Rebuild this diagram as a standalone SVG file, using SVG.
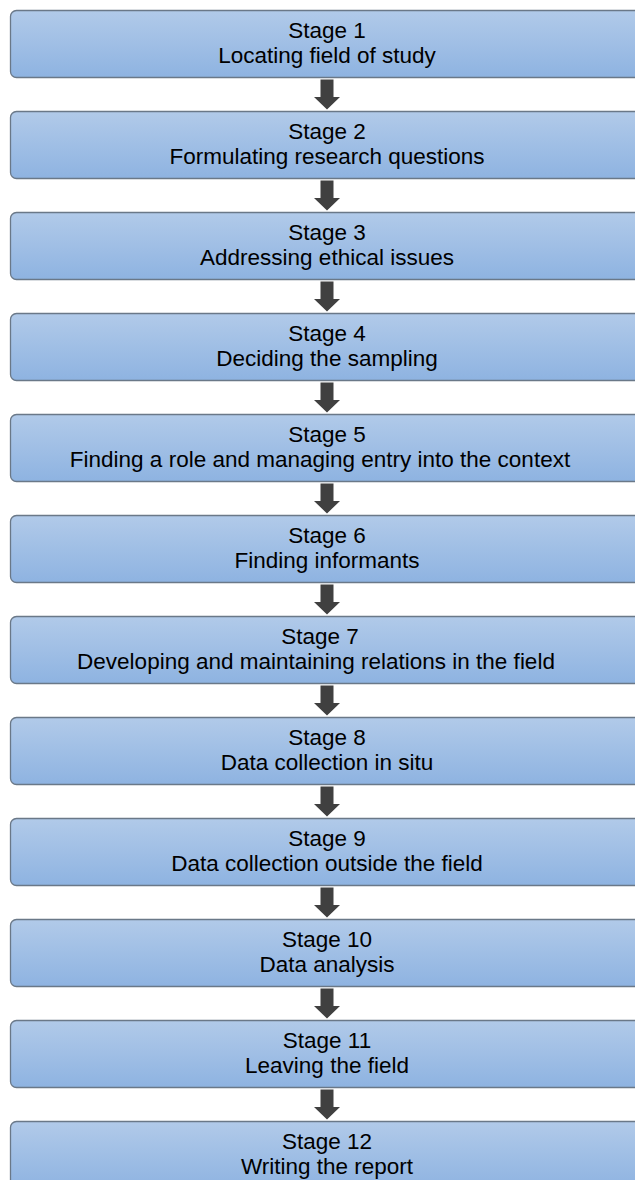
<svg xmlns="http://www.w3.org/2000/svg" width="635" height="1180" viewBox="0 0 635 1180">
<defs>
<linearGradient id="g" x1="0" y1="0" x2="0" y2="1">
<stop offset="0" stop-color="#b1cae9"/>
<stop offset="1" stop-color="#8eb3e1"/>
</linearGradient>
<style>
.box{fill:url(#g);stroke:#6a7888;stroke-width:1.3}
.t{font-family:"Liberation Sans",Arial,sans-serif;font-size:22.5px;fill:#000;text-anchor:middle}
.arr{fill:#404040}
</style>
</defs>
<rect width="635" height="1180" fill="#fff"/>
<g id="connectors">
<path class="arr" d="M320.5,79.5h13v17.5h6.5l-13,12.5l-13,-12.5h6.5z" transform="translate(0,0)"/>
<path class="arr" d="M320.5,79.5h13v17.5h6.5l-13,12.5l-13,-12.5h6.5z" transform="translate(0,101)"/>
<path class="arr" d="M320.5,79.5h13v17.5h6.5l-13,12.5l-13,-12.5h6.5z" transform="translate(0,202)"/>
<path class="arr" d="M320.5,79.5h13v17.5h6.5l-13,12.5l-13,-12.5h6.5z" transform="translate(0,303)"/>
<path class="arr" d="M320.5,79.5h13v17.5h6.5l-13,12.5l-13,-12.5h6.5z" transform="translate(0,404)"/>
<path class="arr" d="M320.5,79.5h13v17.5h6.5l-13,12.5l-13,-12.5h6.5z" transform="translate(0,505)"/>
<path class="arr" d="M320.5,79.5h13v17.5h6.5l-13,12.5l-13,-12.5h6.5z" transform="translate(0,606)"/>
<path class="arr" d="M320.5,79.5h13v17.5h6.5l-13,12.5l-13,-12.5h6.5z" transform="translate(0,707)"/>
<path class="arr" d="M320.5,79.5h13v17.5h6.5l-13,12.5l-13,-12.5h6.5z" transform="translate(0,808)"/>
<path class="arr" d="M320.5,79.5h13v17.5h6.5l-13,12.5l-13,-12.5h6.5z" transform="translate(0,909)"/>
<path class="arr" d="M320.5,79.5h13v17.5h6.5l-13,12.5l-13,-12.5h6.5z" transform="translate(0,1010)"/>
</g>
<g id="stage1"><rect class="box" x="10.5" y="10.5" width="640" height="67" rx="6"/><text class="t" x="327" y="38">Stage 1</text><text class="t" x="327" y="63">Locating field of study</text></g>
<g id="stage2"><rect class="box" x="10.5" y="111.5" width="640" height="67" rx="6"/><text class="t" x="327" y="139">Stage 2</text><text class="t" x="327" y="164">Formulating research questions</text></g>
<g id="stage3"><rect class="box" x="10.5" y="212.5" width="640" height="67" rx="6"/><text class="t" x="327" y="240">Stage 3</text><text class="t" x="327" y="265">Addressing ethical issues</text></g>
<g id="stage4"><rect class="box" x="10.5" y="313.5" width="640" height="67" rx="6"/><text class="t" x="327" y="341">Stage 4</text><text class="t" x="327" y="366">Deciding the sampling</text></g>
<g id="stage5"><rect class="box" x="10.5" y="414.5" width="640" height="67" rx="6"/><text class="t" x="327" y="442">Stage 5</text><text class="t" x="320" y="467">Finding a role and managing entry into the context</text></g>
<g id="stage6"><rect class="box" x="10.5" y="515.5" width="640" height="67" rx="6"/><text class="t" x="327" y="543">Stage 6</text><text class="t" x="327" y="568">Finding informants</text></g>
<g id="stage7"><rect class="box" x="10.5" y="616.5" width="640" height="67" rx="6"/><text class="t" x="320" y="644">Stage 7</text><text class="t" x="316" y="669">Developing and maintaining relations in the field</text></g>
<g id="stage8"><rect class="box" x="10.5" y="717.5" width="640" height="67" rx="6"/><text class="t" x="327" y="745">Stage 8</text><text class="t" x="327" y="770">Data collection in situ</text></g>
<g id="stage9"><rect class="box" x="10.5" y="818.5" width="640" height="67" rx="6"/><text class="t" x="327" y="846">Stage 9</text><text class="t" x="327" y="871">Data collection outside the field</text></g>
<g id="stage10"><rect class="box" x="10.5" y="919.5" width="640" height="67" rx="6"/><text class="t" x="327" y="947">Stage 10</text><text class="t" x="327" y="972">Data analysis</text></g>
<g id="stage11"><rect class="box" x="10.5" y="1020.5" width="640" height="67" rx="6"/><text class="t" x="327" y="1048">Stage 11</text><text class="t" x="327" y="1073">Leaving the field</text></g>
<g id="stage12"><rect class="box" x="10.5" y="1121.5" width="640" height="67" rx="6"/><text class="t" x="327" y="1149">Stage 12</text><text class="t" x="327" y="1174">Writing the report</text></g>
</svg>
